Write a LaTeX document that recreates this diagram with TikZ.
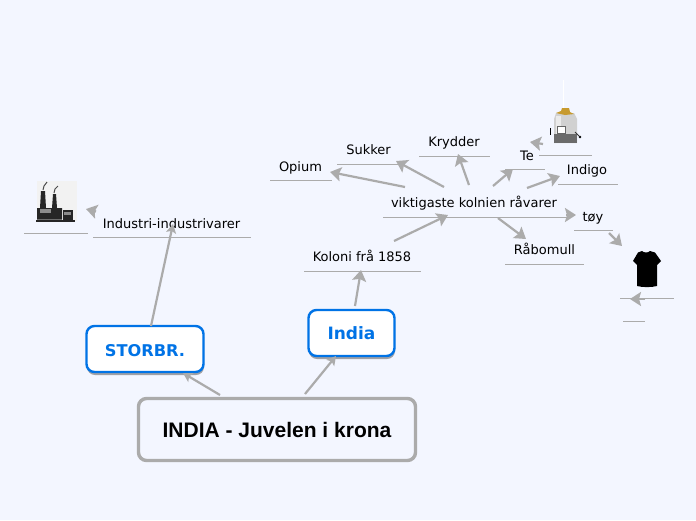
\documentclass[tikz,border=0pt]{standalone}
\usepackage{fontspec}
\setmainfont{DejaVu Sans}
\newfontfamily\titlefont{Liberation Sans}
\usetikzlibrary{arrows.meta,calc,shadows}
\definecolor{pagebg}{HTML}{F3F6FF}
\definecolor{linegray}{HTML}{ABABAB}
\definecolor{topicblue}{HTML}{0073E6}
\definecolor{hatgold}{HTML}{C79A2E}
\tikzset{
  conn/.style={draw=linegray,line width=2.2pt,-{Stealth[length=11pt,width=14pt,inset=2pt]}},
  mainconn/.style={draw=linegray,line width=2.2pt,-{Stealth[length=9pt,width=10pt,inset=2pt]}},
  under/.style={draw=linegray,line width=1pt},
  topic/.style={draw=topicblue,fill=white,line width=2.4pt,rounded corners=8pt,
    font=\fontsize{17}{20}\selectfont\bfseries,text=topicblue,
    drop shadow={shadow xshift=0.5pt,shadow yshift=-3pt,opacity=0.5,fill=black!70}},
  lab/.style={font=\fontsize{13}{16}\selectfont,inner sep=0pt,text=black,text height=9pt,text depth=0pt}
}

\begin{document}
\begin{tikzpicture}[x=1pt,y=-1pt]
  \fill[pagebg] (0,0) rectangle (696,520);
  \useasboundingbox (0,0) rectangle (696,520);
  % --- main boxes ---
  \node[draw=linegray,line width=3.4pt,rounded corners=8pt,minimum width=277pt,minimum height=62pt,
    inner sep=0pt,font=\titlefont\fontsize{21}{26}\selectfont\bfseries] (root) at (277,429.5) {INDIA - Juvelen i krona};
  \node[topic,minimum width=117pt,minimum height=46pt,inner sep=0pt,text height=15pt,text depth=0pt,
    font=\fontsize{16.2}{20}\selectfont\bfseries] (storbr) at (145,349) {STORBR.};
  \node[topic,minimum width=86pt,minimum height=46pt,inner sep=0pt] (india) at (351.5,333) {India};
  % --- labels ---
  \foreach \n/\x/\y/\lab in {industri/171.5/223.5/Industri-industrivarer,koloni/362/256.5/Koloni frå 1858,
    viktig/474/202.5/viktigaste kolnien råvarer,opium/300.5/166.5/Opium,sukker/368.5/149.5/Sukker,
    krydder/454/141.5/Krydder,te/527/155.5/Te,indigo/587/169.5/Indigo,toy/593/216.5/tøy,raabomull/544.5/249.5/Råbomull} {
    \node[lab] (\n) at (\x,\y) {\lab};
  }
  % --- icons ---
  \node[inner sep=0pt,minimum width=40pt,minimum height=40pt] (factory) at (56,202) {};
  \node[inner sep=0pt,minimum width=30pt,minimum height=36pt] (tea) at (565,125) {};
  \node[inner sep=0pt,minimum width=28pt,minimum height=36pt] (shirt) at (647,269) {};
  % factory
  \fill[black!5] (37,181) rectangle (77,221);
  \fill[black!85] (36,219.5) rectangle (75,222);
  \fill[black!85] (37,219.5) -- (37,208) -- (40,208) -- (41,191) -- (45,191) -- (46,208)
    -- (52,208) -- (53,194) -- (56,194) -- (57,208) -- (62,208) -- (62,219.5) -- cycle;
  \fill[black!85] (63,210) rectangle (73,219.5);
  \fill[black!45] (40,209) rectangle (51,213);
  \fill[black!45] (64,212) rectangle (71,215);
  \draw[black!70,line width=1pt] (43,190) -- (44,186) -- (47,182);
  \draw[black!70,line width=1pt] (54,193) -- (55,189) -- (58,186);
  % tea bag
  \draw[white,line width=1pt] (563,80) -- (563,108);
  \fill[black!18] (556,113) -- (574,113) -- (577,119) -- (577,143) -- (554,143) -- (554,119) -- cycle;
  \fill[black!8] (556,116) rectangle (561,134);
  \fill[black!58] (554,134) rectangle (577,143);
  \fill[white,draw=black!60,line width=0.4pt] (557,126) rectangle (565,133);
  \fill[hatgold] (556,113) -- (561,111) -- (562,108) -- (569,108) -- (570,112) -- (574,114) -- (565,115) -- cycle;
  \draw[black!80,line width=0.8pt] (575,132) -- (579,136);
  \fill[black] (580,137) circle (1.3pt);
  \draw[black,line width=0.8pt] (551,128) -- (550,128) -- (550,134) -- (551,134);
  % shirt
  \fill[black] (642,251) .. controls (644,253) and (648,253) .. (650,251) -- (655,252.5) -- (661,261) -- (657,265)
    -- (657,286) .. controls (651,287.5) and (643,287.5) .. (637,286) -- (637,265) -- (633,261) -- (638,252.5) -- cycle;
  % --- underlines ---
  \foreach \n/\a/\b/\d in {industri/-78.5/79.5/14,koloni/-58/59/14.5,viktig/-91/94/14.5,opium/-30.5/31.5/14,
    sukker/-31.5/36.5/14.5,krydder/-35/36/14.5,te/-22/18/14,indigo/-29/31/14.5,toy/-19/20/13.5,raabomull/-39.5/39.5/14.5,
    factory/-32/32/31,tea/-26/27/30,shirt/-27/27/29,shirt/-24/-2/52} {
    \draw[under] ($(\n)+(\a,\d)$) -- ($(\n)+(\b,\d)$);
  }
  % --- connectors ---
  \foreach \from/\fx/\fy/\to/\tx/\ty in {root/-57/-34.5/storbr/38/24,root/28/-35.5/india/-15.5/23,
    storbr/6/-23/industri/1.5/0.5} {
    \draw[mainconn] ($(\from)+(\fx,\fy)$) -- ($(\to)+(\tx,\ty)$);
  }
  \foreach \from/\fx/\fy/\to/\tx/\ty in {industri/-75.5/-12/factory/30/7,india/3.5/-27/koloni/-1/13.5,
    koloni/32/-15.5/viktig/-26/12.5,viktig/-69/-15.5/opium/29.5/5.5,viktig/-30/-15.5/sukker/27.5/11.5,
    viktig/-5/-17.5/krydder/4/12.5,viktig/19/-16.5/te/-14/13.5,viktig/53/-14.5/indigo/-27/6.5,
    viktig/92/12.5/toy/-17/-1.5,viktig/24/15.5/raabomull/-18.5/-10.5,te/16/-11.5/tea/-35/17,
    toy/16/16.5/shirt/-25/-23,shirt/-2/30/shirt/-17/30} {
    \draw[conn] ($(\from)+(\fx,\fy)$) -- ($(\to)+(\tx,\ty)$);
  }
\end{tikzpicture}
\end{document}
